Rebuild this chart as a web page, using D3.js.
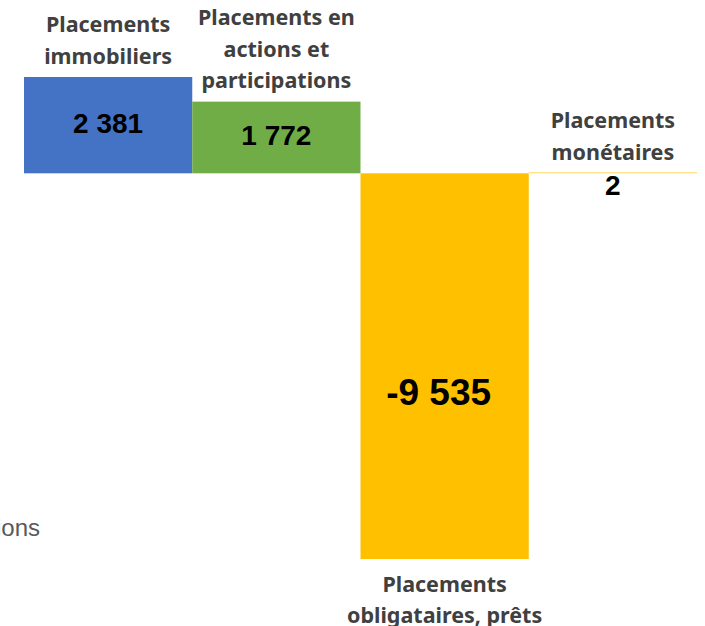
<!DOCTYPE html>
<html>
<head>
<meta charset="utf-8">
<script src="https://cdn.jsdelivr.net/npm/d3@7"></script>
<style>
  body { margin: 0; background: #fff; }
</style>
</head>
<body>
<div id="chart"></div>
<script>
var categories = [
  ["Placements", "immobiliers"],
  ["Placements en", "actions et", "participations"],
  ["Placements", "obligataires, prêts"],
  ["Placements", "monétaires"]
];
var values = [2381, 1772, -9535, 2];
var valueLabels = ["2 381", "1 772", "-9 535", "2"];
var colors = ["#4472C4", "#70AD47", "#FFC000", "#FFC000"];

var svgWidth = 705;
var svgHeight = 626;

var svg = d3.select("#chart")
  .append("svg")
  .attr("width", svgWidth)
  .attr("height", svgHeight);

var x = d3.scaleBand()
  .domain(d3.range(values.length))
  .range([24, 697])
  .padding(0);

var y = d3.scaleLinear()
  .domain(d3.extent(values))
  .range([559, 77]);

// bars
svg.selectAll("rect.bar")
  .data(values)
  .enter()
  .append("rect")
  .attr("class", "bar")
  .attr("x", (d, i) => x(i))
  .attr("width", x.bandwidth())
  .attr("y", d => Math.min(y(d), y(0)) - (Math.abs(y(d) - y(0)) < 1 ? 1 : 0))
  .attr("height", d => Math.max(1, Math.abs(y(d) - y(0))))
  .attr("fill", (d, i) => colors[i])
  .attr("opacity", d => Math.abs(y(d) - y(0)) < 1 ? 0.6 : 1);

// value labels
svg.selectAll("text.val")
  .data(values)
  .enter()
  .append("text")
  .attr("class", "val")
  .attr("x", (d, i) => x(i) + x.bandwidth() / 2 - (d < -5000 ? 6 : 0))
  .attr("y", function (d) {
    if (Math.abs(y(d) - y(0)) < 20) return y(0) + 12;
    if (d < 0) return y(d / 2) + 26;
    return y(d / 2) - 2;
  })
  .attr("dy", "0.35em")
  .attr("text-anchor", "middle")
  .style("font-family", "'Liberation Sans', Arial, sans-serif")
  .style("font-weight", "bold")
  .style("font-size", d => d < -5000 ? "37px" : "28px")
  .style("fill", "#000")
  .text((d, i) => valueLabels[i]);

// category labels
var lineH = 31.5;
categories.forEach(function (lines, i) {
  var d = values[i];
  var cx = x(i) + x.bandwidth() / 2;
  var t = svg.append("text")
    .attr("text-anchor", "middle")
    .style("font-family", "'Noto Sans', 'Open Sans', sans-serif")
    .style("font-weight", "bold")
    .style("font-size", "21.5px")
    .style("fill", "#404040");
  var firstY;
  if (d < 0) {
    firstY = y(d) + 25;
  } else {
    firstY = Math.min(y(d), y(0)) - 21 - (lines.length - 1) * lineH;
  }
  lines.forEach(function (l, j) {
    t.append("tspan")
      .attr("x", cx)
      .attr("y", firstY + j * lineH)
      .attr("dy", "0.35em")
      .text(l);
  });
});

// unit note, cut at the left edge
svg.append("text")
  .attr("x", 40)
  .attr("y", 528)
  .attr("dy", "0.35em")
  .attr("text-anchor", "end")
  .style("font-family", "'Liberation Sans', Arial, sans-serif")
  .style("font-size", "24px")
  .style("fill", "#595959")
  .text("En millions");
</script>
</body>
</html>
